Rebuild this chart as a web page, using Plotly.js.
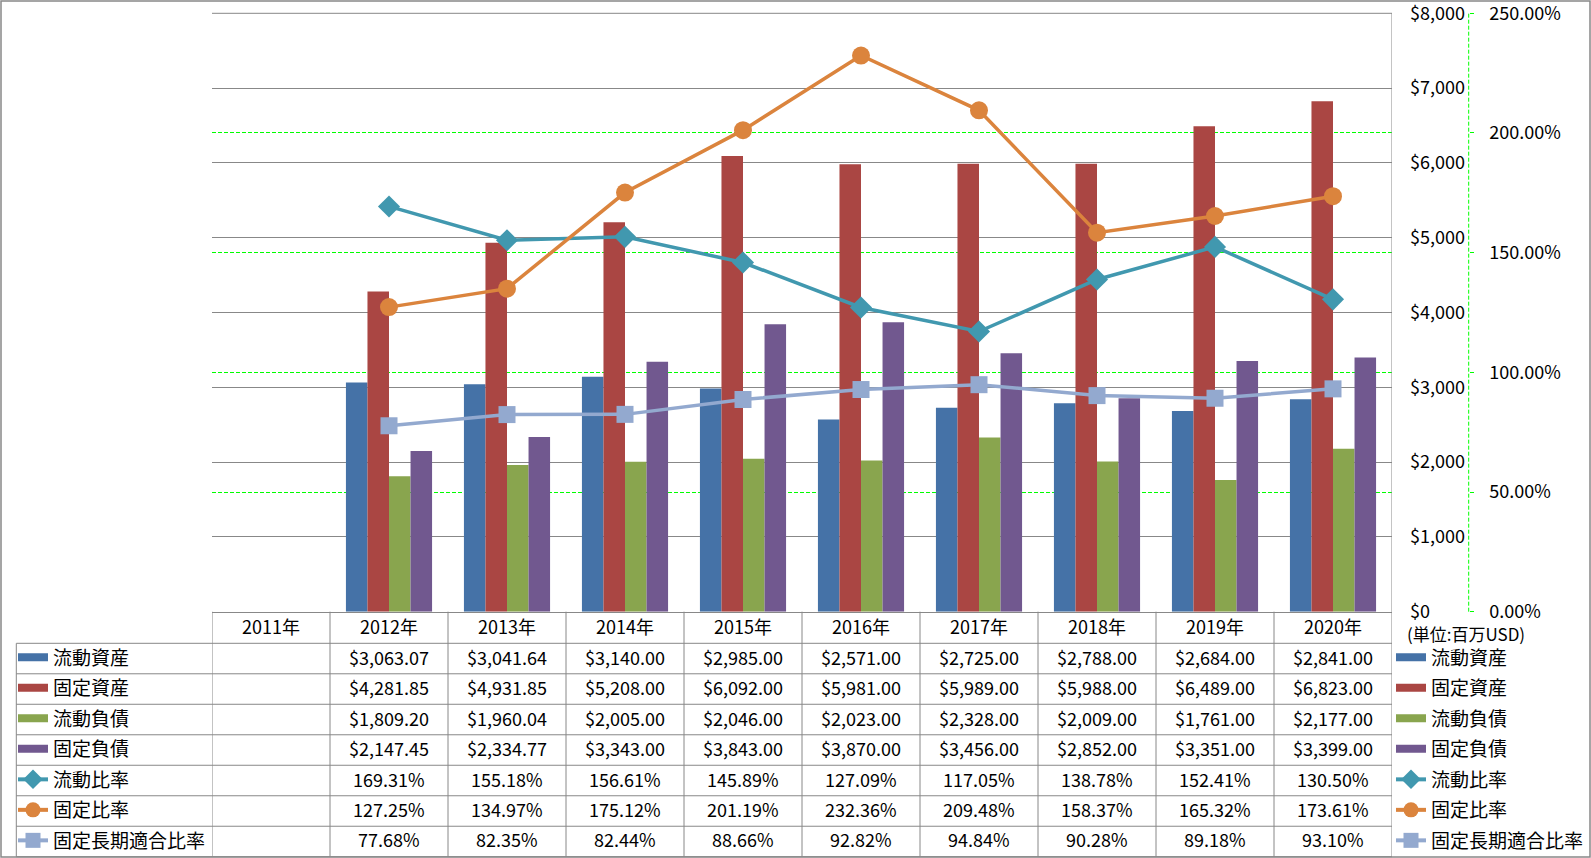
<!DOCTYPE html>
<html>
<head>
<meta charset="utf-8">
<script src="https://cdn.plot.ly/plotly-3.0.1.min.js"></script>
<style>
html, body { margin: 0; padding: 0; background: #ffffff; }
#chart { width: 1591px; height: 858px; }
</style>
</head>
<body>
<div id="chart"></div>
<script>
// ---------- data ----------
const years = ['2011年', '2012年', '2013年', '2014年', '2015年', '2016年', '2017年', '2018年', '2019年', '2020年'];
const currentAssets      = [null, 3063.07, 3041.64, 3140.00, 2985.00, 2571.00, 2725.00, 2788.00, 2684.00, 2841.00];
const fixedAssets        = [null, 4281.85, 4931.85, 5208.00, 6092.00, 5981.00, 5989.00, 5988.00, 6489.00, 6823.00];
const currentLiabilities = [null, 1809.20, 1960.04, 2005.00, 2046.00, 2023.00, 2328.00, 2009.00, 1761.00, 2177.00];
const fixedLiabilities   = [null, 2147.45, 2334.77, 3343.00, 3843.00, 3870.00, 3456.00, 2852.00, 3351.00, 3399.00];
const currentRatio       = [null, 169.31, 155.18, 156.61, 145.89, 127.09, 117.05, 138.78, 152.41, 130.50];
const fixedRatio         = [null, 127.25, 134.97, 175.12, 201.19, 232.36, 209.48, 158.37, 165.32, 173.61];
const fixedLongTermRatio = [null, 77.68, 82.35, 82.44, 88.66, 92.82, 94.84, 90.28, 89.18, 93.10];

const barNames  = ['流動資産', '固定資産', '流動負債', '固定負債'];
const lineNames = ['流動比率', '固定比率', '固定長期適合比率'];
const usdTicks  = [0, 1000, 2000, 3000, 4000, 5000, 6000, 7000, 8000];
const usdTickText = ['$0', '$1,000', '$2,000', '$3,000', '$4,000', '$5,000', '$6,000', '$7,000', '$8,000'];
const pctTicks  = [0, 50, 100, 150, 200, 250];
const pctTickText = ['0.00%', '50.00%', '100.00%', '150.00%', '200.00%', '250.00%'];
const unitLabel = '(単位:百万USD)';

// ---------- style / layout constants ----------
const W = 1591, H = 858;
const FONT = '"Noto Sans CJK JP", "Noto Sans", sans-serif';
const GRAY = '#888888';
const GREEN = '#00FF00';
const barColors  = ['#4572A7', '#AA4643', '#89A54E', '#71588F'];
const lineColors = ['#4198AF', '#DB843D', '#93A9CF'];
const lineSymbols = ['diamond', 'circle', 'square'];
const lineMarkerSizes = [17, 18, 17];

const plotL = 212, plotR = 1392, plotT = 13.3, plotB = 611.7;
const headerB = 643.3, rowH = 30.49, nRows = 7;
const tableL = 16.3;
const ax2X = 1468.7;
const textLift = 2;

const fx = px => px / W;
const fy = py => 1 - py / H;

const barSeries  = [currentAssets, fixedAssets, currentLiabilities, fixedLiabilities];
const lineSeries = [currentRatio, fixedRatio, fixedLongTermRatio];

// ---------- traces ----------
const traces = [];
barSeries.forEach((vals, i) => {
  traces.push({
    type: 'bar', x: years, y: vals, name: barNames[i],
    marker: { color: barColors[i] }, showlegend: false, hoverinfo: 'skip'
  });
});
lineSeries.forEach((vals, i) => {
  traces.push({
    type: 'scatter', mode: 'lines+markers', x: years, y: vals, name: lineNames[i],
    yaxis: 'y2', cliponaxis: false,
    line: { color: lineColors[i], width: 3.5 },
    marker: { symbol: lineSymbols[i], size: lineMarkerSizes[i], color: lineColors[i] },
    showlegend: false, hoverinfo: 'skip'
  });
});
// legend keys (table left column and right legend)
['legend', 'legend2'].forEach((lg) => {
  barNames.forEach((nm, i) => {
    traces.push({
      type: 'scatter', mode: 'lines', x: [null], y: [null], name: nm,
      line: { color: barColors[i], width: 8 }, legend: lg, legendgroup: lg + 'b' + i,
      showlegend: true, hoverinfo: 'skip'
    });
  });
  lineNames.forEach((nm, i) => {
    traces.push({
      type: 'scatter', mode: 'lines+markers', x: [null], y: [null], name: nm,
      line: { color: lineColors[i], width: 4 },
      marker: { symbol: lineSymbols[i], size: 15, color: lineColors[i] },
      legend: lg, legendgroup: lg + 'l' + i, showlegend: true, hoverinfo: 'skip'
    });
  });
});

// ---------- table (shapes + annotations) ----------
const shapes = [];
const annotations = [];
// top border of plot area
shapes.push({ type: 'line', xref: 'paper', yref: 'paper', x0: fx(plotL), x1: fx(plotR),
  y0: fy(plotT), y1: fy(plotT), line: { color: GRAY, width: 1 } });
// vertical column lines at category boundaries
for (let i = 0; i <= years.length; i++) {
  shapes.push({
    type: 'line', xref: 'x', yref: 'paper', x0: i - 0.5, x1: i - 0.5,
    y0: fy(headerB + rowH * nRows), y1: fy(i === years.length ? plotT : plotB),
    line: { color: GRAY, width: 1 }
  });
}
// left border of row-label column
shapes.push({ type: 'line', xref: 'paper', yref: 'paper', x0: fx(tableL), x1: fx(tableL),
  y0: fy(headerB + rowH * nRows), y1: fy(headerB), line: { color: GRAY, width: 1 } });
// horizontal row lines
for (let r = 0; r <= nRows; r++) {
  const yy = fy(headerB + rowH * r);
  shapes.push({ type: 'line', xref: 'paper', yref: 'paper', x0: fx(tableL), x1: fx(plotR),
    y0: yy, y1: yy, line: { color: GRAY, width: 1 } });
}
// secondary axis dashed line
shapes.push({ type: 'line', xref: 'paper', yref: 'paper', x0: fx(ax2X), x1: fx(ax2X),
  y0: fy(plotB), y1: fy(plotT), line: { color: GREEN, width: 1, dash: '4px,2px' } });
// chart outer border
shapes.push({ type: 'rect', xref: 'paper', yref: 'paper', x0: fx(1), x1: fx(1590), y0: fy(857), y1: fy(1),
  line: { color: GRAY, width: 1.5 }, fillcolor: 'rgba(0,0,0,0)' });

const fmtUSD = v => '$' + v.toLocaleString('en-US', { minimumFractionDigits: 2, maximumFractionDigits: 2 });
const fmtPct = v => v.toFixed(2) + '%';
const tableRows = [
  ...barSeries.map(s => s.map(v => v === null ? '' : fmtUSD(v))),
  ...lineSeries.map(s => s.map(v => v === null ? '' : fmtPct(v)))
];
tableRows.forEach((row, r) => {
  row.forEach((txt, c) => {
    if (!txt) return;
    annotations.push({
      xref: 'x', yref: 'paper', x: years[c], y: fy(headerB + rowH * (r + 0.5) - textLift),
      text: txt, showarrow: false, xanchor: 'center', yanchor: 'middle',
      font: { family: FONT, size: 18, color: '#000000' }
    });
  });
});
annotations.push({
  xref: 'paper', yref: 'paper', x: fx(1405), y: fy(633.5), text: unitLabel, showarrow: false,
  xanchor: 'left', yanchor: 'middle', font: { family: FONT, size: 17, color: '#000000' }
});

// ---------- layout ----------
const legendCommon = {
  orientation: 'v', xanchor: 'left', yanchor: 'top', traceorder: 'grouped',
  tracegroupgap: 2.8, bgcolor: 'rgba(0,0,0,0)', borderwidth: 0,
  font: { family: FONT, size: 19, color: '#000000' }, itemclick: false, itemdoubleclick: false
};

const layout = {
  width: W, height: H,
  margin: { l: 0, r: 0, t: 0, b: 0, autoexpand: false },
  paper_bgcolor: '#ffffff', plot_bgcolor: '#ffffff',
  font: { family: FONT, size: 18, color: '#000000' },
  barmode: 'group', bargap: 0.27, bargroupgap: 0,
  showlegend: true,
  legend: Object.assign({}, legendCommon, { x: fx(13), y: fy(638.5) }),
  legend2: Object.assign({}, legendCommon, { x: fx(1391), y: fy(638.5) }),
  xaxis: {
    domain: [fx(plotL), fx(plotR)], type: 'category', categoryarray: years, categoryorder: 'array',
    range: [-0.5, years.length - 0.5], showgrid: false, zeroline: false,
    showline: true, linecolor: GRAY, linewidth: 1, ticks: '', fixedrange: true,
    tickfont: { family: FONT, size: 18, color: '#000000' }, ticklabelstandoff: 0
  },
  yaxis: {
    domain: [fy(plotB), fy(plotT)], range: [0, 8000], tickmode: 'array',
    tickvals: usdTicks, ticktext: usdTickText, side: 'right', anchor: 'x',
    showgrid: true, gridcolor: GRAY, gridwidth: 1, zeroline: false, showline: false,
    ticks: '', fixedrange: true, ticklabelstandoff: 17, ticklabeloverflow: 'allow',
    tickfont: { family: FONT, size: 18, color: '#000000' }
  },
  yaxis2: {
    overlaying: 'y', side: 'right', anchor: 'free', position: fx(ax2X),
    range: [0, 250], tickmode: 'array', tickvals: pctTicks, ticktext: pctTickText,
    showgrid: true, gridcolor: GREEN, gridwidth: 1, griddash: '4px,2px', zeroline: false,
    showline: false, ticks: 'outside', ticklen: 4, tickcolor: GREEN, fixedrange: true,
    ticklabelstandoff: 12, ticklabeloverflow: 'allow',
    tickfont: { family: FONT, size: 18, color: '#000000' }
  },
  shapes: shapes,
  annotations: annotations
};

Plotly.newPlot('chart', traces, layout, { staticPlot: true, displayModeBar: false });
</script>
</body>
</html>
